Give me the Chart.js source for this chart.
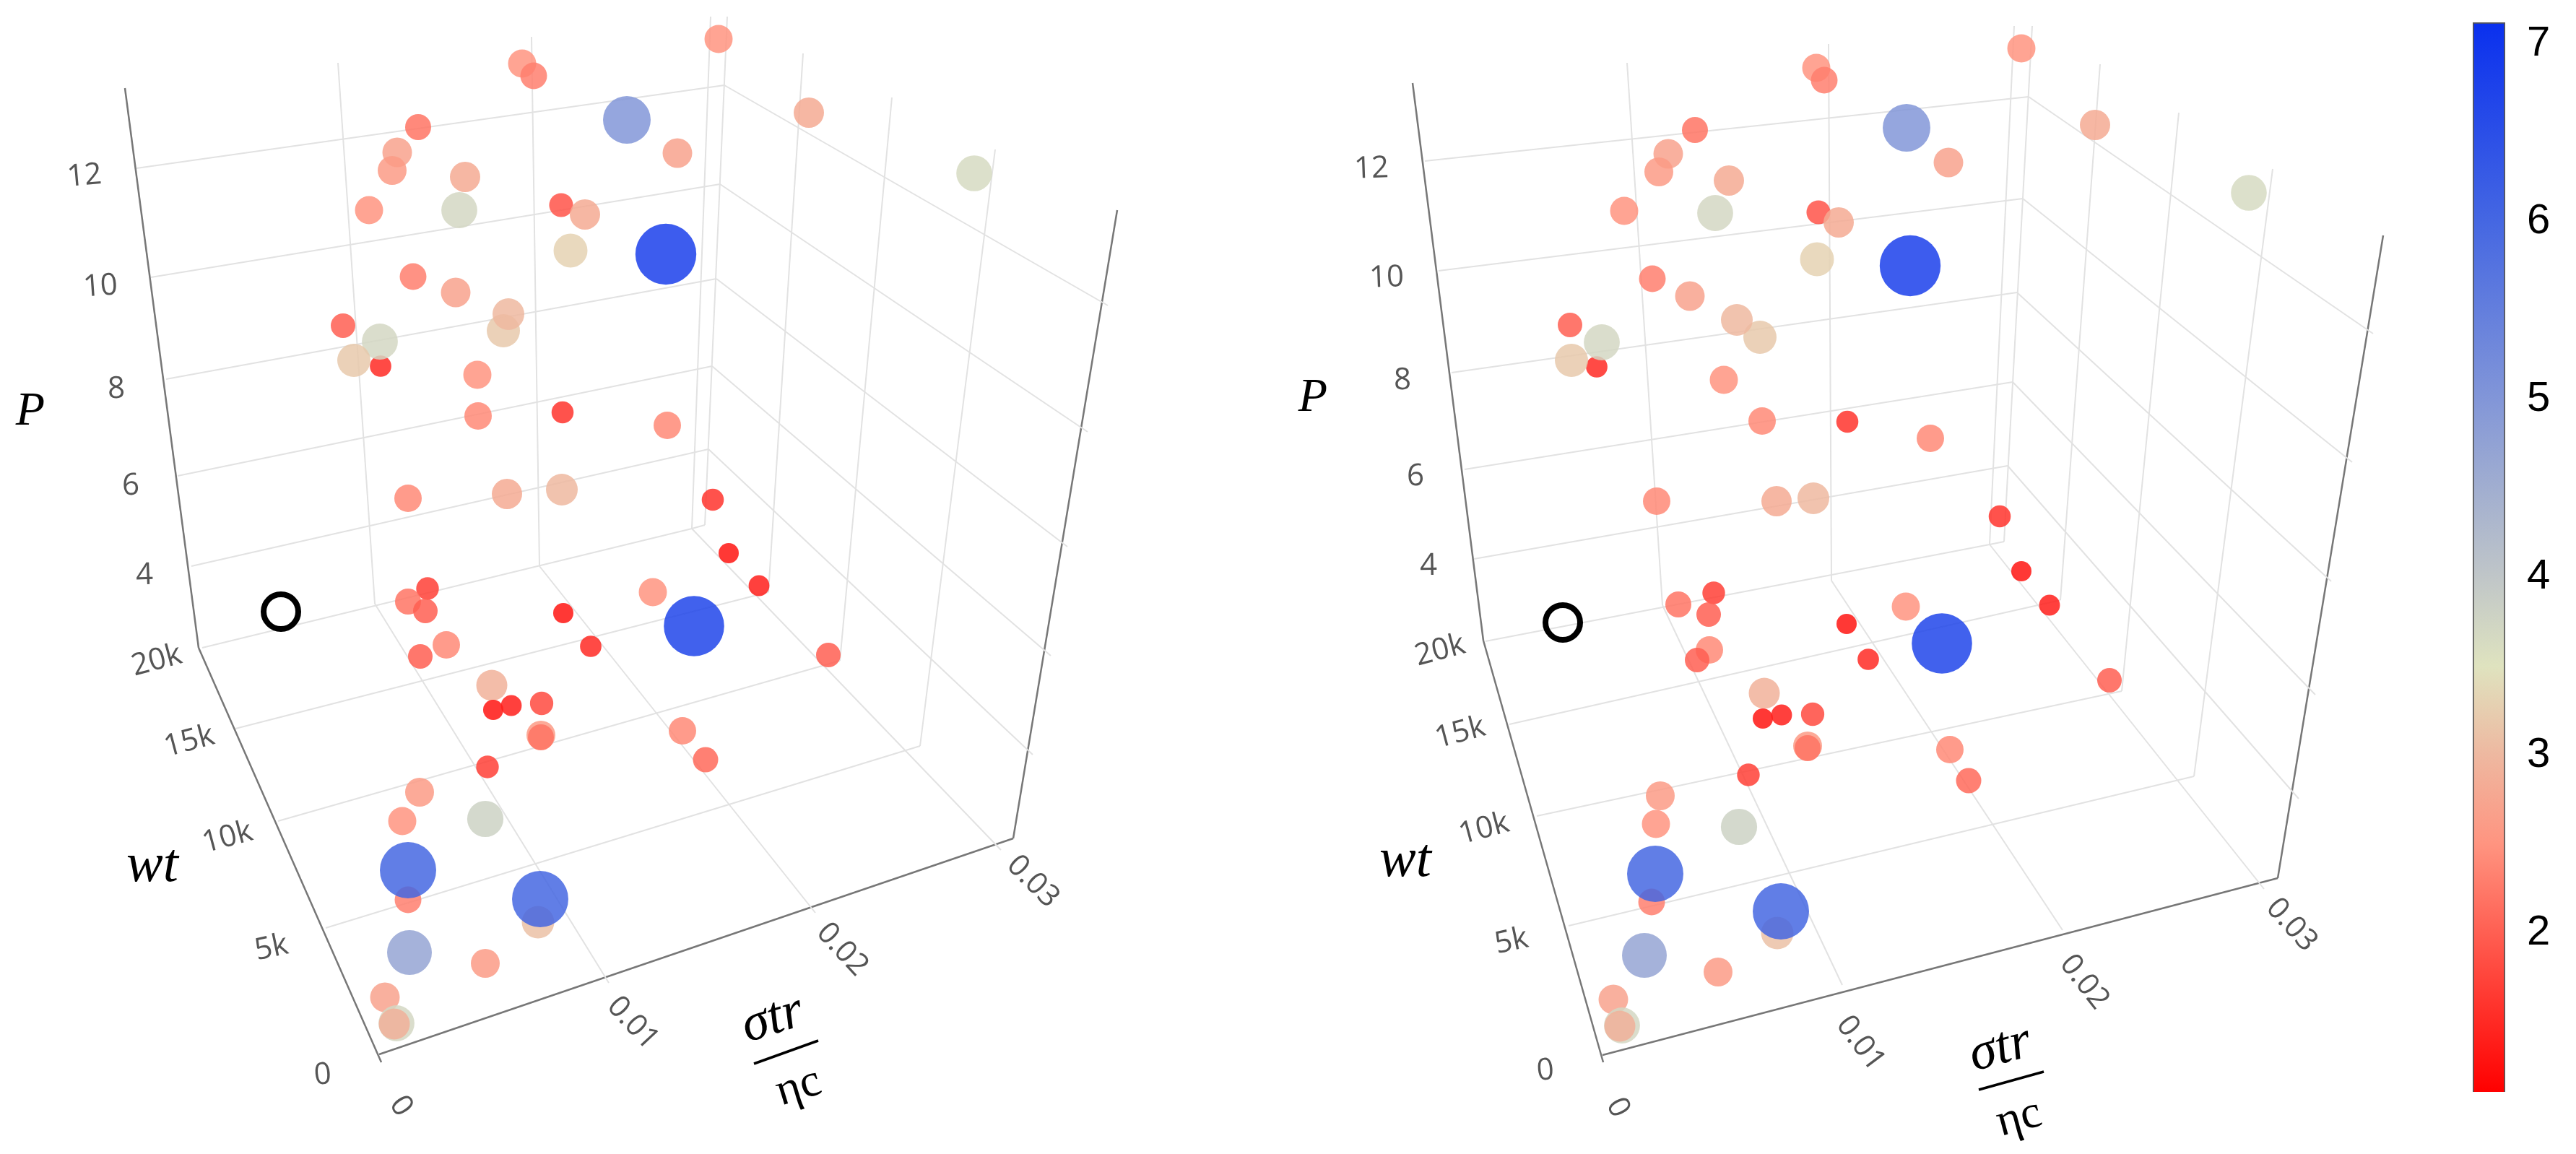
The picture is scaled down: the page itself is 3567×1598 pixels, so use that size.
<!DOCTYPE html>
<html>
<head>
<meta charset="utf-8">
<title>P, wt, sigma tr / eta c</title>
<script src="https://cdn.jsdelivr.net/npm/chart.js@4"></script>
<style>
    html, body { margin: 0; padding: 0; background: #fff; }
    canvas { position: absolute; }
</style>
</head>
<body>
<canvas id="leftChart" style="left:0;top:0" width="1700" height="1598"></canvas>
<canvas id="rightChart" style="left:1700px;top:0" width="1700" height="1598"></canvas>
<canvas id="colorChart" style="left:3424px;top:31px" width="143" height="1481"></canvas>
<script>
// color value of every point, back to front (same order in both views)
const pointValues = [2.5, 2.3, 2.2, 2.7, 2.6, 2.8, 2.5, 3.7, 1.9, 2.8, 3.3, 2.3, 2.7, 3.2, 3.0, 2.0, 1.5, 3.7, 3.2, 2.5, 2.4, 1.6,
    2.4, 2.8, 3.0, 2.5, 2.8, 3.65, 5.0, 2.7, 6.8, 2.4, 1.6, 1.3, 2.5, 1.4, 6.7, 1.5, 2.0, 2.4, 2.1, 1.7, 2.2, 2.0,
    1.3, 2.4, 2.0, 2.9, 1.3, 1.4, 1.8, 2.6, 2.2, 1.7, 2.6, 2.5, 3.8, 2.3, 6.0, 3.1, 6.0, 4.7, 2.6, 2.7, 3.7, 2.9];

// projected positions
const leftX = [723, 739, 579, 550, 543, 644, 511, 636, 777, 810, 790, 572, 631, 697, 704, 475, 527, 526, 490, 661, 662, 779,
    565, 702, 778, 995, 1120, 1349, 868, 938, 922, 924, 987, 1009, 904, 1051, 961, 818, 1147, 945, 977, 592, 565, 589,
    780, 618, 582, 681, 683, 708, 750, 749, 749, 675, 581, 557, 672, 565, 565, 745, 748, 567, 672, 533, 549, 546];
const leftY = [88, 105, 176, 211, 236, 245, 291, 291, 284, 297, 347, 383, 405, 458, 435, 451, 507, 473, 499, 519, 576, 571,
    690, 684, 678, 54, 156, 240, 166, 212, 352, 589, 692, 766, 820, 811, 867, 895, 907, 1012, 1052, 815, 833, 846,
    849, 893, 909, 949, 983, 977, 974, 1018, 1021, 1062, 1097, 1137, 1134, 1246, 1205, 1277, 1245, 1319, 1334, 1381, 1417, 1418];

// projected positions
const rightX = [2515, 2526, 2347, 2310, 2297, 2394, 2249, 2375, 2518, 2546, 2516, 2288, 2340, 2437, 2405, 2174, 2211, 2218, 2176, 2387, 2440, 2558,
    2294, 2460, 2511, 2799, 2901, 3114, 2640, 2698, 2645, 2673, 2769, 2799, 2639, 2838, 2689, 2587, 2921, 2700, 2726, 2373, 2324, 2366,
    2557, 2367, 2350, 2443, 2441, 2467, 2510, 2503, 2503, 2421, 2299, 2293, 2408, 2287, 2292, 2461, 2466, 2277, 2379, 2234, 2246, 2243];
const rightY = [94, 111, 180, 213, 238, 250, 292, 295, 294, 308, 359, 386, 410, 467, 443, 450, 508, 474, 499, 526, 583, 584,
    694, 694, 690, 67, 173, 267, 177, 225, 368, 607, 715, 791, 840, 838, 891, 913, 942, 1038, 1081, 821, 837, 851,
    864, 900, 914, 960, 995, 990, 989, 1033, 1036, 1073, 1102, 1141, 1145, 1249, 1210, 1292, 1262, 1323, 1346, 1384, 1420, 1421];

// open black marker
const leftMarker = [389, 847];
const rightMarker = [2164, 862];

// colorbar
const colorStops = [1.106, 2, 2.5, 3, 3.5, 4, 5, 6, 7.12];
const colorHex = ['#ff0000', '#ff5f52', '#ff9480', '#eeb8a0', '#dfe3bf', '#c0c6c8', '#8296d8', '#4567e2', '#0a30ee'];
const colorTicks = [2, 3, 4, 5, 6, 7];

// marker size per value
const sizeStops = [1.1, 1.3, 2, 2.5, 3, 3.5, 4, 4.7, 5, 6, 7];
const sizeRadii = [13, 14, 17, 19.5, 22, 24.5, 25.5, 31, 33, 39, 43];

// tick labels
const pTicks = ['12', '10', '8', '6', '4'];
const wtTicks = ['20k', '15k', '10k', '5k', '0'];
const xTicks = ['0', '0.01', '0.02', '0.03'];

// [x, y, rotation] of the labels, same order as the ticks above
const leftPPos = [[117, 244, -5], [139, 397, -4], [161, 539, -2], [181, 673, -2], [200, 797, -2]];
const leftWtPos = [[217, 915, -15], [262, 1027, -15], [315, 1160, -15], [376, 1313, -12], [447, 1489, -5]];
const leftXPos = [[555, 1532, 55], [876, 1417, 47], [1166, 1315, 47], [1430, 1221, 45]];
const rightPPos = [[1899, 234, -2], [1920, 385, -2], [1942, 527, -1], [1960, 660, -1], [1978, 784, -1]];
const rightWtPos = [[1994, 901, -15], [2022, 1015, -15], [2055, 1148, -15], [2093, 1304, -12], [2140, 1483, -5]];
const rightXPos = [[2240, 1534, 62], [2576, 1445, 53], [2886, 1360, 52], [3173, 1281, 48]];

// box edges and grid of each view, [x1, y1, x2, y2]
const leftAxes = [[173, 122, 275, 897], [275, 897, 528, 1471], [525, 1460, 1403, 1161], [1403, 1161, 1547, 291]];
const leftGrid = [
    [189, 233, 1003, 118], [209, 384, 997, 255], [230, 525, 992, 386], [246, 659, 986, 507], [265, 784, 981, 622],
    [1003, 118, 1534, 423], [997, 255, 1506, 598], [992, 386, 1478, 757], [986, 507, 1455, 908], [981, 622, 1430, 1045],
    [468, 87, 519, 836], [736, 51, 747, 784], [984, 23, 958, 732], [1007, 23, 976, 727], [958, 732, 976, 727],
    [1112, 74, 1064, 820], [1235, 135, 1163, 915], [1378, 207, 1274, 1033],
    [280, 897, 958, 732], [326, 1009, 1064, 820], [385, 1137, 1163, 915], [451, 1285, 1274, 1033],
    [519, 836, 843, 1361], [747, 784, 1129, 1264], [958, 732, 1386, 1177]
];
const rightAxes = [[1956, 115, 2054, 887], [2054, 887, 2220, 1471], [2219, 1461, 3154, 1216], [3154, 1216, 3300, 326]];
const rightGrid = [
    [1973, 223, 2809, 134], [1992, 375, 2801, 275], [2010, 516, 2793, 405], [2028, 650, 2787, 529], [2041, 774, 2780, 645],
    [2809, 134, 3286, 462], [2801, 275, 3257, 640], [2793, 405, 3228, 805], [2787, 529, 3206, 962], [2780, 645, 3183, 1106],
    [2253, 87, 2302, 838], [2532, 61, 2536, 804], [2789, 36, 2755, 754], [2814, 36, 2775, 750], [2755, 754, 2775, 750],
    [2908, 89, 2853, 831], [3017, 156, 2938, 957], [3147, 234, 3038, 1075],
    [2057, 888, 2755, 754], [2090, 1003, 2853, 831], [2128, 1130, 2938, 957], [2172, 1282, 3038, 1075],
    [2302, 838, 2551, 1364], [2536, 804, 2856, 1288], [2755, 754, 3135, 1231]
];

// fraction bar of the x title
const leftFractionBar = [1044, 1473, 1133, 1441];
const rightFractionBar = [2740, 1509, 2830, 1484];

function lerpStops(stops, outs, v) {
    for (let i = 1; i < stops.length; i++) {
        if (v <= stops[i]) {
            const t = Math.max(0, (v - stops[i - 1]) / (stops[i] - stops[i - 1]));
            return outs[i - 1] + (outs[i] - outs[i - 1]) * t;
        }
    }
    return outs[outs.length - 1];
}

function colorFor(v) {
    const channels = [1, 3, 5].map(p => colorHex.map(h => parseInt(h.substr(p, 2), 16)));
    const [r, g, b] = channels.map(c => Math.round(lerpStops(colorStops, c, v)));
    return `rgba(${r}, ${g}, ${b}, 0.85)`;
}

function segment(seg, color, width) {
    return {
        type: 'scatter',
        showLine: true,
        data: [{ x: seg[0], y: seg[1] }, { x: seg[2], y: seg[3] }],
        borderColor: color,
        borderWidth: width,
        pointRadius: 0,
        order: 5
    };
}

// rotated tick labels and axis titles
function textPlugin(texts) {
    return {
        id: 'panelText',
        afterDatasetsDraw(chart) {
            const ctx = chart.ctx;
            texts.forEach(t => {
                ctx.save();
                ctx.translate(chart.scales.x.getPixelForValue(t.x), chart.scales.y.getPixelForValue(t.y));
                ctx.rotate((t.rot || 0) * Math.PI / 180);
                ctx.font = t.font;
                ctx.fillStyle = t.color;
                ctx.textAlign = 'center';
                ctx.textBaseline = 'middle';
                ctx.fillText(t.text, 0, 0);
                ctx.restore();
            });
        }
    };
}

function tickTexts(labels, positions) {
    return labels.map((text, i) => ({
        text: text,
        x: positions[i][0],
        y: positions[i][1],
        rot: positions[i][2],
        font: '42px "Open Sans"',
        color: '#555'
    }));
}

function titleTexts(p, wt, top, bottom, rot) {
    return [
        { text: 'P', x: p[0], y: p[1], font: 'italic 66px "Liberation Serif"', color: '#000' },
        { text: 'wt', x: wt[0], y: wt[1], font: 'italic 76px "Liberation Serif"', color: '#000' },
        { text: 'σtr', x: top[0], y: top[1], rot: rot, font: 'italic 74px "Liberation Serif"', color: '#000' },
        { text: 'ηc', x: bottom[0], y: bottom[1], rot: rot, font: '64px "Liberation Serif"', color: '#000' }
    ];
}

function makePanel(id, xMin, xMax, xs, ys, marker, axes, grid, bar, texts) {
    const datasets = [{
        type: 'bubble',
        data: pointValues.map((v, i) => ({ x: xs[i], y: ys[i], r: lerpStops(sizeStops, sizeRadii, v) })),
        backgroundColor: pointValues.map(colorFor),
        borderWidth: 0,
        order: 1
    }, {
        type: 'scatter',
        data: [{ x: marker[0], y: marker[1] }],
        pointRadius: 24,
        pointBackgroundColor: 'rgba(255, 255, 255, 0)',
        pointBorderColor: '#000',
        pointBorderWidth: 8,
        order: 0
    }];
    grid.forEach(s => datasets.push(segment(s, '#e2e2e2', 2)));
    axes.forEach(s => datasets.push(segment(s, '#777', 2.5)));
    datasets.push(segment(bar, '#000', 3.5));

    return new Chart(document.getElementById(id), {
        data: { datasets: datasets },
        options: {
            responsive: false,
            animation: false,
            events: [],
            layout: { padding: 0, autoPadding: false },
            plugins: { legend: { display: false }, tooltip: { enabled: false } },
            scales: {
                x: { type: 'linear', display: false, min: xMin, max: xMax },
                y: { type: 'linear', display: false, min: 0, max: 1598, reverse: true }
            }
        },
        plugins: [textPlugin(texts)]
    });
}

makePanel('leftChart', 0, 1700, leftX, leftY, leftMarker, leftAxes, leftGrid, leftFractionBar,
    tickTexts(pTicks, leftPPos)
        .concat(tickTexts(wtTicks, leftWtPos))
        .concat(tickTexts(xTicks, leftXPos))
        .concat(titleTexts([42, 571], [211, 1200], [1070, 1412], [1106, 1506], -17)));

makePanel('rightChart', 1700, 3400, rightX, rightY, rightMarker, rightAxes, rightGrid, rightFractionBar,
    tickTexts(pTicks, rightPPos)
        .concat(tickTexts(wtTicks, rightWtPos))
        .concat(tickTexts(xTicks, rightXPos))
        .concat(titleTexts([1818, 552], [1946, 1193], [2770, 1453], [2796, 1549], -15)));

// colorbar, one floating bar with the scale as gradient
new Chart(document.getElementById('colorChart'), {
    type: 'bar',
    data: {
        labels: ['value'],
        datasets: [{
            data: [[colorStops[0], colorStops[colorStops.length - 1]]],
            barPercentage: 1,
            categoryPercentage: 1,
            borderColor: '#555',
            borderWidth: 2,
            backgroundColor(c) {
                const area = c.chart.chartArea;
                if (!area) return colorHex[0];
                const g = c.chart.ctx.createLinearGradient(0, area.bottom, 0, area.top);
                const lo = colorStops[0];
                const hi = colorStops[colorStops.length - 1];
                colorStops.forEach((s, i) => g.addColorStop((s - lo) / (hi - lo), colorHex[i]));
                return g;
            }
        }]
    },
    options: {
        responsive: false,
        animation: false,
        events: [],
        layout: { padding: 0, autoPadding: false },
        plugins: { legend: { display: false }, tooltip: { enabled: false } },
        scales: {
            x: { display: false },
            y: {
                position: 'right',
                min: colorStops[0],
                max: colorStops[colorStops.length - 1],
                grid: { display: false },
                border: { display: false },
                afterFit(scale) {
                    // bar has to fill the canvas height, no room kept for the end labels
                    scale.width = 98;
                    scale.paddingTop = 0;
                    scale.paddingBottom = 0;
                },
                afterBuildTicks(scale) { scale.ticks = colorTicks.map(v => ({ value: v })); },
                ticks: {
                    color: '#000',
                    padding: 22,
                    font: { family: '"Liberation Sans"', size: 58 }
                }
            }
        }
    }
});
</script>
</body>
</html>
